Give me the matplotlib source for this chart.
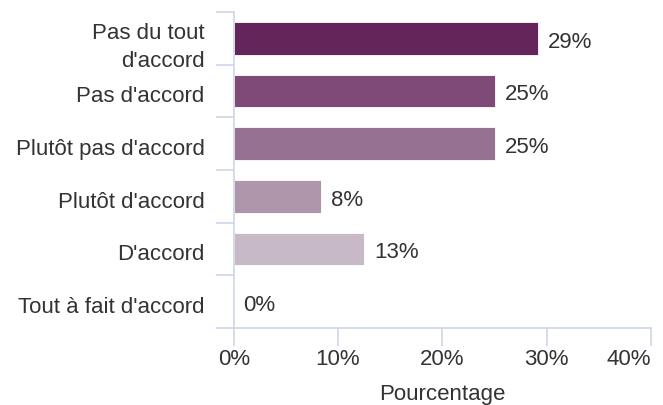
import matplotlib
matplotlib.use("Agg")
import matplotlib.pyplot as plt
import numpy as np

plt.rcParams["font.family"] = ["Liberation Sans", "DejaVu Sans"]

categories = ["Pas du tout\nd'accord", "Pas d'accord", "Plutôt pas d'accord",
              "Plutôt d'accord", "D'accord", "Tout à fait d'accord"]
counts = [7, 6, 6, 2, 3, 0]
total = 24
percent = [100.0 * c / total for c in counts]
labels = ["29%", "25%", "25%", "8%", "13%", "0%"]
bar_colors = ["#64255b", "#7f4a75", "#967191", "#b096ab", "#c8b9c6", "#e0d8de"]
xticks = [0, 10, 20, 30, 40]

axis_color = "#ccd6eb"
text_color = "#333333"
fs = 16

fig = plt.figure(figsize=(6.63, 4.05), dpi=100)
ax = fig.add_axes([0.3525, 0.19, 0.6295, 0.7804])

y = np.arange(len(categories))
ax.barh(y, percent, height=0.62, color=bar_colors, edgecolor="white", linewidth=0.6)
# labels sit a touch below the bar centre, like the original
for yi, v, lab in zip(y, percent, labels):
    ax.text(v + 0.95, yi + 0.07, lab, va="center", ha="left", fontsize=fs, color=text_color)

ax.set_xlim(0, 40)
ax.set_ylim(len(categories) - 0.5, -0.5)
ax.set_xticks(xticks)
ax.set_xticklabels([f"{t}%" for t in xticks])
ax.set_yticks(y + 0.06)
ax.set_yticklabels(categories)
ax.set_yticks(np.arange(len(categories) + 1) - 0.5, minor=True)

ax.tick_params(axis="y", which="major", length=0, pad=21, labelsize=fs, labelcolor=text_color)
ax.tick_params(axis="y", which="minor", length=13, width=1.2, color=axis_color)
ax.tick_params(axis="x", which="major", length=13, width=1.2, color=axis_color,
               pad=2, labelsize=fs, labelcolor=text_color)
for lab in ax.get_yticklabels():
    lab.set_horizontalalignment("right")
    lab.set_multialignment("right")
    lab.set_linespacing(1.45)
# keep the last x label inside the figure
last = ax.get_xticklabels()[-1]
last.set_horizontalalignment("right")

for s in ["top", "right"]:
    ax.spines[s].set_visible(False)
ax.spines["left"].set_color(axis_color)
ax.spines["bottom"].set_color(axis_color)
ax.spines["left"].set_linewidth(1.2)
ax.spines["bottom"].set_linewidth(1.2)

ax.set_xlabel("Pourcentage", fontsize=fs, color=text_color, labelpad=10)

fig.savefig("out.png", dpi=100)
